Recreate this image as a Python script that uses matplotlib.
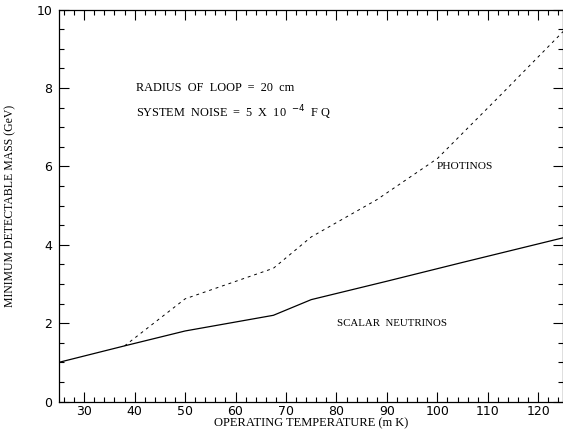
import matplotlib
matplotlib.use('Agg')

import matplotlib.pyplot as plt
from matplotlib.ticker import MultipleLocator

# Datos
temp_neutrino = [25, 38, 50, 67.5, 75, 90, 105, 125]
masa_neutrino = [1.0, 1.42, 1.8, 2.2, 2.6, 3.07, 3.55, 4.18]

temp_photino = [38, 50, 67.5, 75, 88, 100, 112, 125]
masa_photino = [1.42, 2.62, 3.4, 4.2, 5.15, 6.2, 7.75, 9.45]

serif = ['Liberation Serif', 'DejaVu Serif']

fig = plt.figure(figsize=(5.63, 4.32), dpi=100)
ax = fig.add_axes([0.1048, 0.0706, 0.896, 0.907])

ax.plot(temp_neutrino, masa_neutrino, color='black', lw=0.9)
ax.plot(temp_photino, masa_photino, color='black', lw=0.7, linestyle=(0, (3, 4)))

ax.set_xlim(25, 125)
ax.set_ylim(0, 10)
ax.xaxis.set_major_locator(MultipleLocator(10))
ax.xaxis.set_minor_locator(MultipleLocator(2))
ax.yaxis.set_major_locator(MultipleLocator(2))
ax.yaxis.set_minor_locator(MultipleLocator(0.5))
ax.tick_params(which='both', direction='in', top=True, right=True, width=0.8,
               labelsize=9)
ax.tick_params(axis='x', pad=2.5)
ax.tick_params(axis='y', pad=5)
ax.tick_params(which='major', length=7)
ax.tick_params(which='minor', length=3.5)
ax.set_xticks([30, 40, 50, 60, 70, 80, 90, 100, 110, 120])
for s in ax.spines.values():
    s.set_linewidth(0.9)

ax.text(40.2, 8.0, "RADIUS  OF  LOOP  =  20  cm", family=serif, fontsize=8.8, va='center')
ax.text(40.2, 7.36, r"SYSTEM  NOISE  =  5  X  10  $^{-4}$  F Q", family=serif, fontsize=8.8,
        va='center')
ax.text(99.8, 6.0, "PHOTINOS", family=serif, fontsize=8.2, va='center')
ax.text(80.2, 2.0, "SCALAR  NEUTRINOS", family=serif, fontsize=7.8, va='center')

ax.set_xlabel("OPERATING TEMPERATURE (m K)", family=serif, fontsize=9)
ax.xaxis.set_label_coords(0.5, -0.041)
ax.set_ylabel("MINIMUM DETECTABLE MASS (GeV)", family=serif, fontsize=8.5, labelpad=14)

fig.savefig('out.png', dpi=100)
